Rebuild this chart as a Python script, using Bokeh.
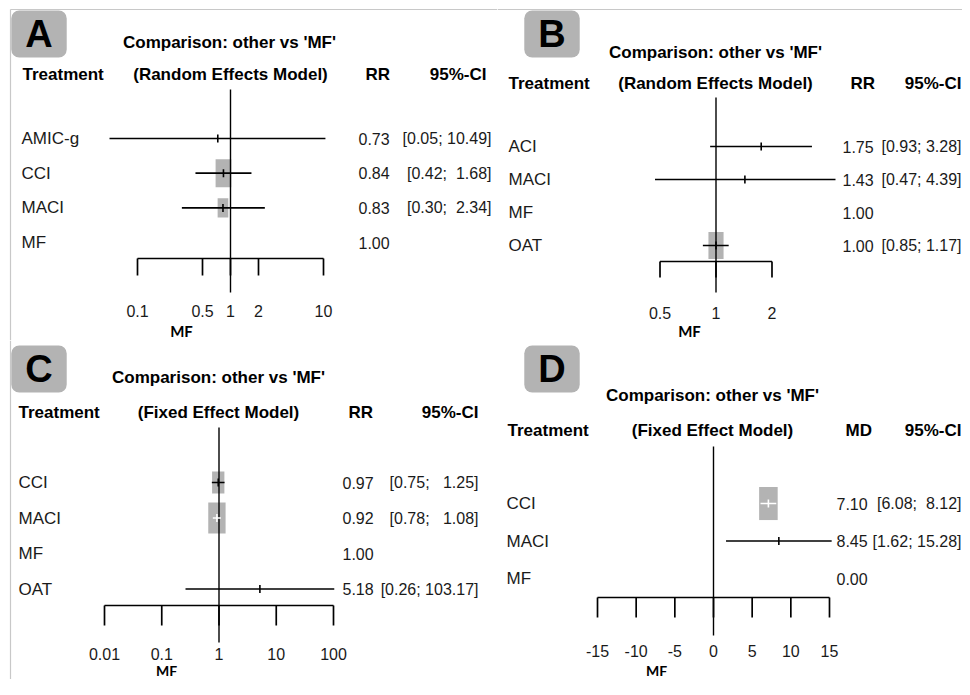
import math
from bokeh.plotting import figure
from bokeh.models import Range1d, LinearScale, Label
from bokeh.layouts import row, column
from bokeh.embed import file_html
from bokeh.resources import INLINE
from bokeh.core.properties import value

# ---------------- data ----------------
A_trt = ["AMIC-g", "CCI", "MACI", "MF"]
A_est = [0.73, 0.84, 0.83, 1.00]
A_lo = [0.05, 0.42, 0.30, None]
A_hi = [10.49, 1.68, 2.34, None]
A_w = [0.0, 0.78, 0.53, 0.0]
A_ticks = [0.1, 0.5, 1, 2, 10]
A_tick_labels = ["0.1", "0.5", "1", "2", "10"]

B_trt = ["ACI", "MACI", "MF", "OAT"]
B_est = [1.75, 1.43, 1.00, 1.00]
B_lo = [0.93, 0.47, None, 0.85]
B_hi = [3.28, 4.39, None, 1.17]
B_w = [0.0, 0.0, 0.0, 0.75]
B_ticks = [0.5, 1, 2]
B_tick_labels = ["0.5", "1", "2"]

C_trt = ["CCI", "MACI", "MF", "OAT"]
C_est = [0.97, 0.92, 1.00, 5.18]
C_lo = [0.75, 0.78, None, 0.26]
C_hi = [1.25, 1.08, None, 103.17]
C_w = [0.61, 0.86, 0.0, 0.0]
C_ticks = [0.01, 0.1, 1, 10, 100]
C_tick_labels = ["0.01", "0.1", "1", "10", "100"]

D_trt = ["CCI", "MACI", "MF"]
D_est = [7.10, 8.45, 0.00]
D_lo = [6.08, 1.62, None]
D_hi = [8.12, 15.28, None]
D_w = [0.92, 0.0, 0.0]
D_ticks = [-15, -10, -5, 0, 5, 10, 15]
D_tick_labels = ["-15", "-10", "-5", "0", "5", "10", "15"]

# ---------------- styles ----------------
FONT = "Liberation Sans"
SQ = "#b3b3b3"
BORDER = "#c8c8c8"
TXT = "#1a1a1a"
NBSP = "\u00a0"


def fmt_ci(lo, hi, los, his):
    wl = max(len(f"{v:.2f}") for v in los if v is not None)
    wh = max(len(f"{v:.2f}") for v in his if v is not None)
    if lo is None:
        return ""
    a = f"{lo:.2f}".rjust(wl).replace(" ", NBSP)
    b = f"{hi:.2f}".rjust(wh).replace(" ", NBSP)
    return "[" + a + ";" + NBSP + b + "]"


def panel(cfg):
    x0, y0, W, H = cfg["box"]
    cx, k = cfg["center"], cfg["scale"]
    if cfg["log"]:
        xr = Range1d(10 ** ((x0 - cx) / k), 10 ** ((x0 + W - cx) / k))
        axis_type = "log"
    else:
        xr = Range1d((x0 - cx) / k, (x0 + W - cx) / k)
        axis_type = "linear"
    p = figure(width=W, height=H, x_range=xr, y_range=Range1d(y0 + H, y0),
               x_axis_type=axis_type, x_axis_location=None, y_axis_location=None,
               output_backend="svg", toolbar_location=None, min_border=0)
    p.outline_line_color = None
    p.grid.visible = False
    p.background_fill_color = "white"
    p.extra_x_ranges = {"px": Range1d(x0, x0 + W)}
    p.extra_x_scales = {"px": LinearScale()}

    trt, est, lo, hi, w = cfg["trt"], cfg["est"], cfg["lo"], cfg["hi"], cfg["w"]
    ry = [cfg["row0"] + i * cfg["dy"] for i in range(len(trt))]
    cols = cfg["colors"]

    for (xa, ya, xb, yb) in cfg.get("borders", []):
        p.segment(x0=[xa], y0=[ya], x1=[xb], y1=[yb], x_range_name="px",
                  line_color=BORDER, line_width=1.2)

    idx = [i for i in range(len(trt)) if w[i] > 0]
    p.rect(x=[est[i] for i in idx], y=[ry[i] for i in idx],
           width=[w[i] * 36 * 0.56 for i in idx], height=[w[i] * 36 for i in idx],
           width_units="screen", height_units="screen",
           fill_color=SQ, line_color=None)

    ref = 0 if not cfg["log"] else 1
    p.segment(x0=[ref], y0=[cfg["ref_y"][0]], x1=[ref], y1=[cfg["ref_y"][1]],
              line_color="black", line_width=1.4)

    ci = [i for i in range(len(trt)) if lo[i] is not None]
    p.segment(x0=[lo[i] for i in ci], y0=[ry[i] for i in ci],
              x1=[hi[i] for i in ci], y1=[ry[i] for i in ci],
              line_color=[cols[i] for i in ci], line_width=1.7)
    p.segment(x0=[est[i] for i in ci], y0=[ry[i] - 4 for i in ci],
              x1=[est[i] for i in ci], y1=[ry[i] + 4 for i in ci],
              line_color=[cols[i] for i in ci], line_width=1.6)

    ay = cfg["axis_y"]
    tk = cfg["ticks"]
    p.segment(x0=[tk[0]], y0=[ay], x1=[tk[-1]], y1=[ay], line_color="black", line_width=1.7)
    p.segment(x0=tk, y0=[ay] * len(tk), x1=tk, y1=[ay + cfg["tick_len"]] * len(tk),
              line_color="black", line_width=1.7)
    p.text(x=tk, y=[cfg["tick_label_y"]] * len(tk), text=cfg["tick_labels"],
           text_font=value(FONT), text_font_size="16px", text_color=TXT,
           text_align="center", text_baseline="middle")

    p.text(x=[cfg["lab_x"]] * len(trt), y=ry, text=trt, x_range_name="px",
           text_font=value(FONT), text_font_size="17px", text_color=TXT,
           text_align="left", text_baseline="middle")
    p.text(x=[cfg["est_x"]] * len(trt), y=ry, text=[f"{v:.2f}" for v in est],
           x_range_name="px", text_font=value(FONT), text_font_size="16px",
           text_color=TXT, text_align="left", text_baseline="middle")
    p.text(x=[cfg["ci_x"]] * len(trt), y=ry,
           text=[fmt_ci(lo[i], hi[i], lo, hi) for i in range(len(trt))],
           x_range_name="px", text_font=value(FONT), text_font_size="16px",
           text_color=TXT, text_align="right", text_baseline="middle")

    for (t, hx, hy, al) in cfg["headers"]:
        p.text(x=[hx], y=[hy], text=[t], x_range_name="px", text_font=value(FONT),
               text_font_size="17px", text_font_style="bold", text_color="black",
               text_align=al, text_baseline="middle")

    mx, my, ms = cfg["mf"]
    p.text(x=[mx], y=[my], text=["MF"], x_range_name="px", text_font=value("Lato"),
           text_font_size=ms, text_font_style="bold", text_color="black",
           text_align="center", text_baseline="middle")

    lx, ly = cfg["letter_pos"]
    p.add_layout(Label(x=lx, y=ly, x_range_name="px", text=cfg["letter"],
                       text_font="Liberation Sans", text_font_size="38px",
                       text_font_style="bold", text_color="black",
                       text_align="center", text_baseline="middle",
                       background_fill_color=SQ, border_radius=8,
                       padding=(14, 14, 2, 3)))
    return p


cfgA = dict(box=(0, 0, 497, 340), log=True, center=230, scale=93,
            trt=A_trt, est=A_est, lo=A_lo, hi=A_hi, w=A_w,
            colors=["black"] * 4, row0=138, dy=34.7, ref_y=(89, 292),
            axis_y=258, tick_len=17, ticks=A_ticks, tick_labels=A_tick_labels,
            tick_label_y=310, lab_x=21, est_x=358, ci_x=491,
            headers=[("Comparison: other vs 'MF'", 229, 42, "center"),
                     ("Treatment", 22, 74, "left"),
                     ("(Random Effects Model)", 230, 74, "center"),
                     ("RR", 365, 74, "left"),
                     ("95%-CI", 486, 74, "right")],
            mf=(181, 330, "15px"), letter="A", letter_pos=(38.5, 33.5),
            borders=[(10, 9, 497, 9), (10, 9, 10, 340)])

cfgB = dict(box=(497, 0, 465, 340), log=True, center=715.5, scale=186,
            trt=B_trt, est=B_est, lo=B_lo, hi=B_hi, w=B_w,
            colors=["black"] * 4, row0=146, dy=33, ref_y=(97, 292),
            axis_y=261, tick_len=16, ticks=B_ticks, tick_labels=B_tick_labels,
            tick_label_y=312, lab_x=508, est_x=842, ci_x=961,
            headers=[("Comparison: other vs 'MF'", 715, 52, "center"),
                     ("Treatment", 508, 83, "left"),
                     ("(Random Effects Model)", 715, 83, "center"),
                     ("RR", 850, 83, "left"),
                     ("95%-CI", 961, 83, "right")],
            mf=(689, 330, "15px"), letter="B", letter_pos=(551.5, 33.5),
            borders=[(497, 9, 962, 9)])

cfgC = dict(box=(0, 340, 497, 339), log=True, center=218.5, scale=57.25,
            trt=C_trt, est=C_est, lo=C_lo, hi=C_hi, w=C_w,
            colors=["black", "white", "black", "black"], row0=482, dy=35.5,
            ref_y=(427, 642), axis_y=605, tick_len=20, ticks=C_ticks,
            tick_labels=C_tick_labels, tick_label_y=653, lab_x=18, est_x=342, ci_x=478,
            headers=[("Comparison: other vs 'MF'", 218, 377, "center"),
                     ("Treatment", 18, 412, "left"),
                     ("(Fixed Effect Model)", 218, 412, "center"),
                     ("RR", 348, 412, "left"),
                     ("95%-CI", 478, 412, "right")],
            mf=(166, 670, "14px"), letter="C", letter_pos=(38.5, 368.5),
            borders=[(10, 340, 10, 679)])

cfgD = dict(box=(497, 340, 465, 339), log=False, center=713, scale=7.733,
            trt=D_trt, est=D_est, lo=D_lo, hi=D_hi, w=D_w,
            colors=["white", "black", "black"], row0=503, dy=37.5,
            ref_y=(446, 635), axis_y=597, tick_len=20, ticks=D_ticks,
            tick_labels=D_tick_labels, tick_label_y=650, lab_x=506, est_x=836, ci_x=961,
            headers=[("Comparison: other vs 'MF'", 712, 395, "center"),
                     ("Treatment", 507, 430, "left"),
                     ("(Fixed Effect Model)", 712, 430, "center"),
                     ("MD", 845, 430, "left"),
                     ("95%-CI", 961, 430, "right")],
            mf=(656, 670, "14px"), letter="D", letter_pos=(551.5, 368.5))

pA, pB, pC, pD = (panel(c) for c in (cfgA, cfgB, cfgC, cfgD))
layout = column(row(pA, pB), row(pC, pD))

open("out.html", "w").write(file_html(layout, INLINE))
